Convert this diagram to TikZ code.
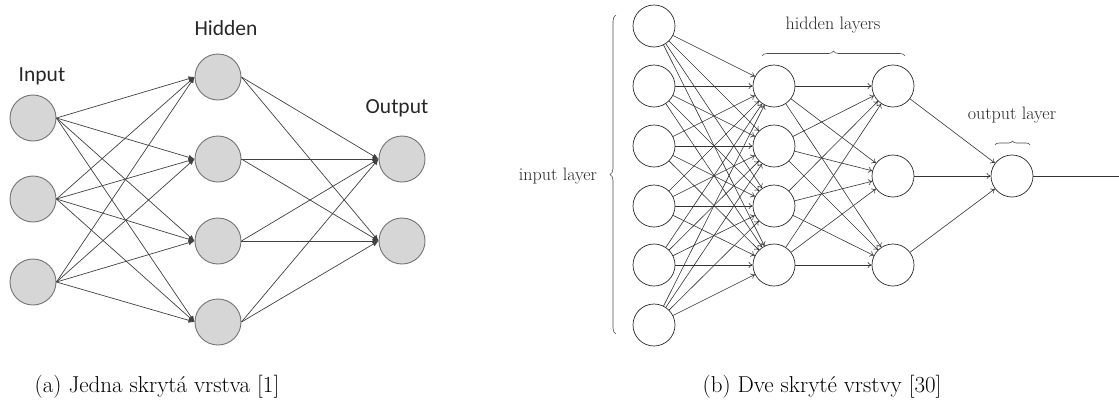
\documentclass[tikz,border=0pt]{standalone}
\usepackage{fontspec}
\newfontfamily\calib{Carlito}
\usetikzlibrary{arrows.meta,decorations.pathreplacing}
\begin{document}
\begin{tikzpicture}[x=1pt,y=-1pt,
  gnode/.style={circle,draw=black!55,fill=black!16,line width=0.9pt,minimum size=46pt,inner sep=0pt},
  wnode/.style={circle,draw=black!85,line width=0.7pt,minimum size=42pt,inner sep=0pt},
  gedge/.style={draw=black!75,line width=0.7pt,-{Latex[length=6pt,width=5pt]}},
  wedge/.style={draw=black!80,line width=0.6pt,-{To[length=4pt,width=6pt]}},
  lbl/.style={font=\calib\fontsize{21.5}{24}\selectfont,text=black!85},
  slbl/.style={font=\fontsize{18}{20}\selectfont,text=black!85},
  captxt/.style={font=\fontsize{23}{26}\selectfont},
  brc/.style={decorate,draw=black!70,line width=0.6pt}]
\useasboundingbox (0,0) rectangle (1119,405);
% ---------- (a) ----------
\foreach \i/\y in {1/118,2/199,3/282} \node[gnode] (A-\i) at (33,\y) {};
\foreach \i/\y in {1/77,2/159,3/241,4/322} \node[gnode] (B-\i) at (218,\y) {};
\foreach \i/\y in {1/159,2/241} \node[gnode] (C-\i) at (402,\y) {};
\foreach \i in {1,2,3} \foreach \j in {1,2,3,4} \draw[gedge] (A-\i.east) -- (B-\j.west);
\foreach \i in {1,2,3,4} \foreach \j in {1,2} \draw[gedge] (B-\i.east) -- (C-\j.west);
\node[lbl] (tin) at (42,76) {Input};
\node[lbl] (thid) at (226,28) {Hidden};
\node[lbl] (tout) at (397,108) {Output};
% ---------- (b) ----------
\foreach \i/\y in {1/26,2/86,3/146,4/206,5/265,6/325} \node[wnode] (I-\i) at (654,\y) {};
\foreach \i/\y in {1/86,2/146,3/206,4/265} \node[wnode] (H-\i) at (774,\y) {};
\foreach \i/\y in {1/86,2/176,3/265} \node[wnode] (G-\i) at (893,\y) {};
\node[wnode] (O) at (1012,176) {};
\coordinate (oend) at (1119,176);
\foreach \i in {1,...,6} \foreach \j in {1,...,4} \draw[wedge] (I-\i) -- (H-\j);
\foreach \i in {1,...,4} \foreach \j in {1,2,3} \draw[wedge] (H-\i) -- (G-\j);
\foreach \i in {1,2,3} \draw[wedge] (G-\i) -- (O);
\draw[draw=black!80,line width=0.6pt] (O) -- (oend);
\coordinate (b1a) at (616,334); \coordinate (b1b) at (616,15);
\draw[brc,decoration={brace,amplitude=6pt}] (b1a) -- (b1b);
\node[slbl] (til) at (558,176) {input layer};
\coordinate (b2a) at (762,56); \coordinate (b2b) at (905,56);
\draw[brc,decoration={brace,amplitude=5pt}] (b2a) -- (b2b);
\node[slbl] (thl) at (833,25) {hidden layers};
\coordinate (b3a) at (995,145); \coordinate (b3b) at (1030,145);
\draw[brc,decoration={brace,amplitude=4pt}] (b3a) -- (b3b);
\node[slbl] (tol) at (1012,115) {output layer};
% ---------- captions ----------
\node[captxt] (ca) at (157,387) {(a) Jedna skrytá vrstva [1]};
\node[captxt] (cb) at (822,387) {(b) Dve skryté vrstvy [30]};
\end{tikzpicture}
\end{document}
